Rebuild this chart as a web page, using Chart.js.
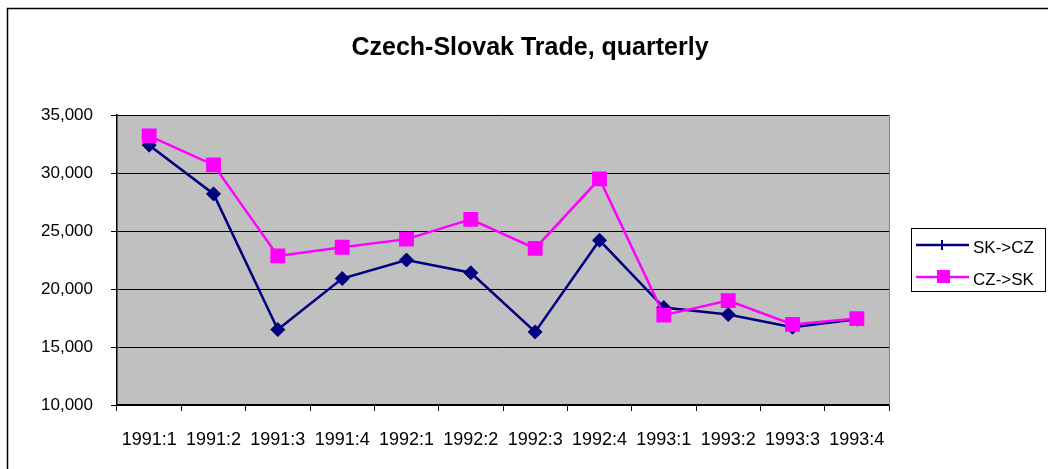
<!DOCTYPE html>
<html>
<head>
<meta charset="utf-8">
<style>
  html, body { margin: 0; padding: 0; background: #fff; }
  #wrap { position: relative; width: 1048px; height: 469px; }
</style>
<script src="https://cdn.jsdelivr.net/npm/chart.js@4.4.1/dist/chart.umd.min.js"></script>
</head>
<body>
<div id="wrap"><canvas id="tradeChart" width="1048" height="469"></canvas></div>
<script>
const quarters = ['1991:1', '1991:2', '1991:3', '1991:4', '1992:1', '1992:2',
                  '1992:3', '1992:4', '1993:1', '1993:2', '1993:3', '1993:4'];
const skToCz = [32400, 28200, 16500, 20900, 22500, 21400, 16300, 24200, 18400, 17800, 16700, 17400];
const czToSk = [33200, 30700, 22850, 23600, 24300, 26000, 23500, 29500, 17750, 19000, 16950, 17450];
const yTicks = [10000, 15000, 20000, 25000, 30000, 35000];
const chartTitle = 'Czech-Slovak Trade, quarterly';
const seriesNames = ['SK->CZ', 'CZ->SK'];

const FONT = "Arial, 'Liberation Sans', sans-serif";
const NAVY = '#000080';
const MAGENTA = '#ff00ff';

// grey plot background, title, outer frame and the Excel style legend
const excelDecor = {
    id: 'excelDecor',
    beforeDraw(chart) {
        const { ctx, chartArea: a } = chart;
        ctx.save();
        ctx.fillStyle = '#c0c0c0';
        ctx.fillRect(a.left, a.top, a.right - a.left, a.bottom - a.top);
        ctx.restore();
    },
    afterDatasetsDraw(chart) {
        const { ctx, chartArea: a } = chart;
        ctx.save();
        // right edge of plot
        ctx.strokeStyle = '#808080';
        ctx.lineWidth = 1;
        ctx.beginPath();
        ctx.moveTo(a.right + 0.5, a.top);
        ctx.lineTo(a.right + 0.5, a.bottom);
        ctx.stroke();

        // outer frame (top and left only visible)
        ctx.strokeStyle = '#000';
        ctx.lineWidth = 1.5;
        ctx.beginPath();
        ctx.moveTo(7.5, 480);
        ctx.lineTo(7.5, 8.5);
        ctx.lineTo(1060, 8.5);
        ctx.stroke();

        // title
        ctx.fillStyle = '#000';
        ctx.font = 'bold 25px ' + FONT;
        ctx.textAlign = 'center';
        ctx.textBaseline = 'alphabetic';
        ctx.fillText(chartTitle, 530, 55);

        // legend box
        ctx.strokeStyle = '#000';
        ctx.lineWidth = 1;
        ctx.strokeRect(911.5, 228.5, 134, 63);
        ctx.font = '17px ' + FONT;
        ctx.textAlign = 'left';
        const rows = [
            { name: seriesNames[0], color: NAVY, y: 245, mark: 'tick' },
            { name: seriesNames[1], color: MAGENTA, y: 277, mark: 'square' }
        ];
        rows.forEach(r => {
            ctx.strokeStyle = r.color;
            ctx.lineWidth = 2.5;
            ctx.beginPath();
            ctx.moveTo(916, r.y);
            ctx.lineTo(969, r.y);
            ctx.stroke();
            if (r.mark === 'tick') {
                ctx.lineWidth = 2;
                ctx.beginPath();
                ctx.moveTo(942, r.y - 5);
                ctx.lineTo(942, r.y + 5);
                ctx.stroke();
            } else {
                ctx.fillStyle = r.color;
                ctx.fillRect(937, r.y - 7, 13, 13);
            }
            ctx.fillStyle = '#000';
            ctx.fillText(r.name, 973, r.y + 8);
        });
        ctx.restore();
    }
};

new Chart(document.getElementById('tradeChart').getContext('2d'), {
    type: 'line',
    data: {
        labels: quarters,
        datasets: [{
            label: seriesNames[0],
            data: skToCz,
            borderColor: NAVY,
            backgroundColor: NAVY,
            borderWidth: 2.5,
            pointStyle: 'rectRot',
            pointRadius: 7,
            pointBorderWidth: 1,
            tension: 0,
            order: 2
        }, {
            label: seriesNames[1],
            data: czToSk,
            borderColor: MAGENTA,
            backgroundColor: MAGENTA,
            borderWidth: 2.5,
            pointStyle: 'rect',
            pointRadius: 10.5,
            pointBorderWidth: 0,
            tension: 0,
            order: 1
        }]
    },
    options: {
        responsive: false,
        animation: false,
        layout: { padding: { left: 0, top: 115, right: 159, bottom: 0 } },
        plugins: {
            legend: { display: false },
            title: { display: false },
            tooltip: { enabled: false }
        },
        scales: {
            x: {
                offset: true,
                afterFit: s => { s.height = 64; },
                grid: {
                    offset: true,
                    drawOnChartArea: false,
                    drawTicks: true,
                    tickLength: 6,
                    color: '#000'
                },
                border: { display: true, color: '#000', width: 1.5 },
                ticks: {
                    color: '#000',
                    padding: 18,
                    maxRotation: 0,
                    autoSkip: false,
                    font: { family: FONT, size: 18 }
                }
            },
            y: {
                min: yTicks[0],
                max: yTicks[yTicks.length - 1],
                afterFit: s => { s.width = 117; },
                afterBuildTicks: s => { s.ticks = yTicks.map(v => ({ value: v })); },
                grid: {
                    color: '#000',
                    lineWidth: 1,
                    tickLength: 6
                },
                border: { display: true, color: '#000', width: 1.5 },
                ticks: {
                    color: '#000',
                    padding: 18,
                    font: { family: FONT, size: 17 },
                    callback: v => v.toLocaleString('en-US')
                }
            }
        }
    },
    plugins: [excelDecor]
});
</script>
</body>
</html>
